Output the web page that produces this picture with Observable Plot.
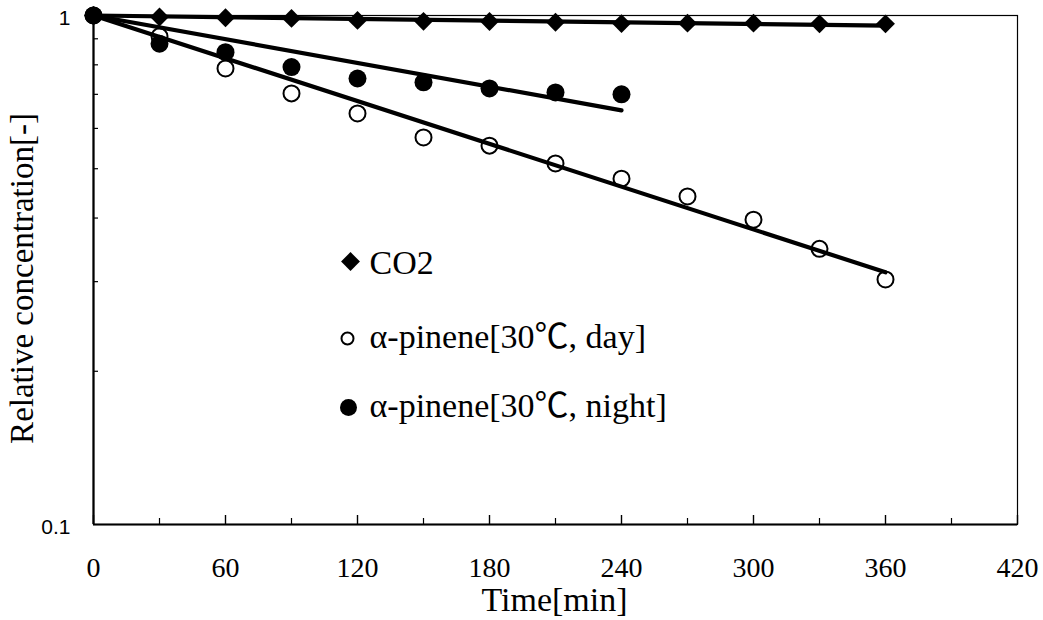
<!DOCTYPE html>
<html>
<head>
<meta charset="utf-8">
<script src="https://cdn.jsdelivr.net/npm/d3@7"></script>
<script src="https://cdn.jsdelivr.net/npm/@observablehq/plot@0.6"></script>
<style>
  body { margin: 0; background: #fff; }
  #chart svg { display: block; }
</style>
</head>
<body>
<div id="chart"></div>
<script>
// Sampling times [min]
const times = [0, 30, 60, 90, 120, 150, 180, 210, 240, 270, 300, 330, 360];
const nightTimes = [0, 30, 60, 90, 120, 150, 180, 210, 240];

// Relative concentrations (C / C0)
const co2Values = [1, 0.993, 0.99, 0.987, 0.978, 0.974, 0.973, 0.97, 0.964, 0.966, 0.966, 0.963, 0.963];
const dayValues = [1, 0.91, 0.787, 0.703, 0.642, 0.576, 0.555, 0.512, 0.478, 0.441, 0.397, 0.348, 0.303];
const nightValues = [1, 0.88, 0.847, 0.792, 0.752, 0.739, 0.719, 0.706, 0.70];

// First-order decay fits: value 1 at t = 0, fitted value at the last sample
const fitNames = ["CO2", "day", "night"];
const fitEndTimes = [360, 360, 240];
const fitEndValues = [0.955, 0.313, 0.651];

// Axis ticks
const xLabelTicks = [0, 60, 120, 180, 240, 300, 360, 420];
const xMinorTicks = [30, 90, 150, 210, 270, 330, 390];
const yLabelTicks = [0.1, 1];
const yMinorTicks = [0.2, 0.3, 0.4, 0.5, 0.6, 0.7, 0.8, 0.9];

const legendLabels = ["CO2", "α-pinene[30℃, day]", "α-pinene[30℃, night]"];

const co2Rows = times.map((t, i) => ({t, v: co2Values[i]}));
const dayRows = times.map((t, i) => ({t, v: dayValues[i]}));
const nightRows = nightTimes.map((t, i) => ({t, v: nightValues[i]}));
const fitRows = fitNames.flatMap((name, i) => [
  {series: name, t: 0, v: 1},
  {series: name, t: fitEndTimes[i], v: fitEndValues[i]}
]);

const serif = "Liberation Serif";
const sans = "Liberation Sans";
const symbolFont = "Noto Sans CJK JP"; // carries a full-width ℃ glyph

const W = 1043, H = 620;
const mL = 93, mR = 26, mT = 15, mB = 96;
const innerW = W - mL - mR, innerH = H - mT - mB;

const legendText = (label, dy) => Plot.text([label], {
  frameAnchor: "top-left", dx: 276, dy, textAnchor: "start", lineAnchor: "bottom",
  fontSize: 34, fontFamily: serif, fill: "black"
});

const chart = Plot.plot({
  width: W,
  height: H,
  marginLeft: mL,
  marginRight: mR,
  marginTop: mT,
  marginBottom: mB,
  style: {background: "white", color: "black"},
  x: {domain: [0, 420]},
  y: {type: "log", domain: [0.1, 1]},
  marks: [
    // plot border and axis lines
    Plot.frame({stroke: "black", strokeWidth: 1.2}),
    Plot.ruleX([0], {stroke: "black", strokeWidth: 2.2}),
    Plot.ruleY([0.1], {stroke: "black", strokeWidth: 2.2}),
    // inward ticks
    Plot.tickX(xLabelTicks, {x: d => d, insetTop: innerH - 9, stroke: "black", strokeWidth: 1.4}),
    Plot.tickX(xMinorTicks, {x: d => d, insetTop: innerH - 6, stroke: "black", strokeWidth: 1.2}),
    Plot.tickY(yMinorTicks, {y: d => d, insetRight: innerW - 5, stroke: "black", strokeWidth: 1.2}),
    // tick labels
    Plot.axisX({ticks: xLabelTicks, tickSize: 0, tickPadding: 33, tickFormat: d => String(d),
      fontSize: 28, fontFamily: serif, label: null}),
    Plot.axisY({ticks: yLabelTicks, tickSize: 0, tickPadding: 23, tickFormat: d => String(d),
      fontSize: 21, fontFamily: sans, label: null, dy: 2.5}),
    // fitted decay lines
    Plot.line(fitRows, {x: "t", y: "v", z: "series", stroke: "black", strokeWidth: 4.2}),
    // measured points
    Plot.dot(co2Rows, {x: "t", y: "v", symbol: "diamond2", r: 8.5, fill: "black"}),
    Plot.dot(dayRows, {x: "t", y: "v", r: 8, fill: "none", stroke: "black", strokeWidth: 2}),
    Plot.dot(nightRows, {x: "t", y: "v", r: 9, fill: "black"}),
    // legend
    Plot.dot([legendLabels[0]], {frameAnchor: "top-left", dx: 257, dy: 246, symbol: "diamond2", r: 8.5, fill: "black"}),
    Plot.dot([legendLabels[1]], {frameAnchor: "top-left", dx: 254, dy: 323, r: 6, fill: "none", stroke: "black", strokeWidth: 2}),
    Plot.dot([legendLabels[2]], {frameAnchor: "top-left", dx: 255, dy: 392, r: 8.5, fill: "black"}),
    legendText(legendLabels[0], 258),
    legendText(legendLabels[1], 332),
    legendText(legendLabels[2], 401),
    // axis titles
    Plot.text(["Relative concentration[-]"], {frameAnchor: "left", dx: -61, dy: 8.5, rotate: -90,
      textAnchor: "middle", lineAnchor: "bottom", fontSize: 33, fontFamily: serif, fill: "black"}),
    Plot.text(["Time[min]"], {frameAnchor: "bottom", dx: -1, dy: 86, textAnchor: "middle",
      lineAnchor: "bottom", fontSize: 34, fontFamily: serif, fill: "black"})
  ]
});

// Set the degree-Celsius sign in its own span, in a font with a full-width glyph
d3.select(chart).selectAll("text").each(function () {
  const s = this.textContent;
  if (!s.includes("℃")) return;
  const [before, after] = s.split("℃");
  const t = d3.select(this).text(null);
  t.append("tspan").text(before);
  t.append("tspan").attr("font-family", symbolFont).attr("font-size", 34).text("℃");
  t.append("tspan").text(after);
});

document.getElementById("chart").appendChild(chart);
</script>
</body>
</html>
